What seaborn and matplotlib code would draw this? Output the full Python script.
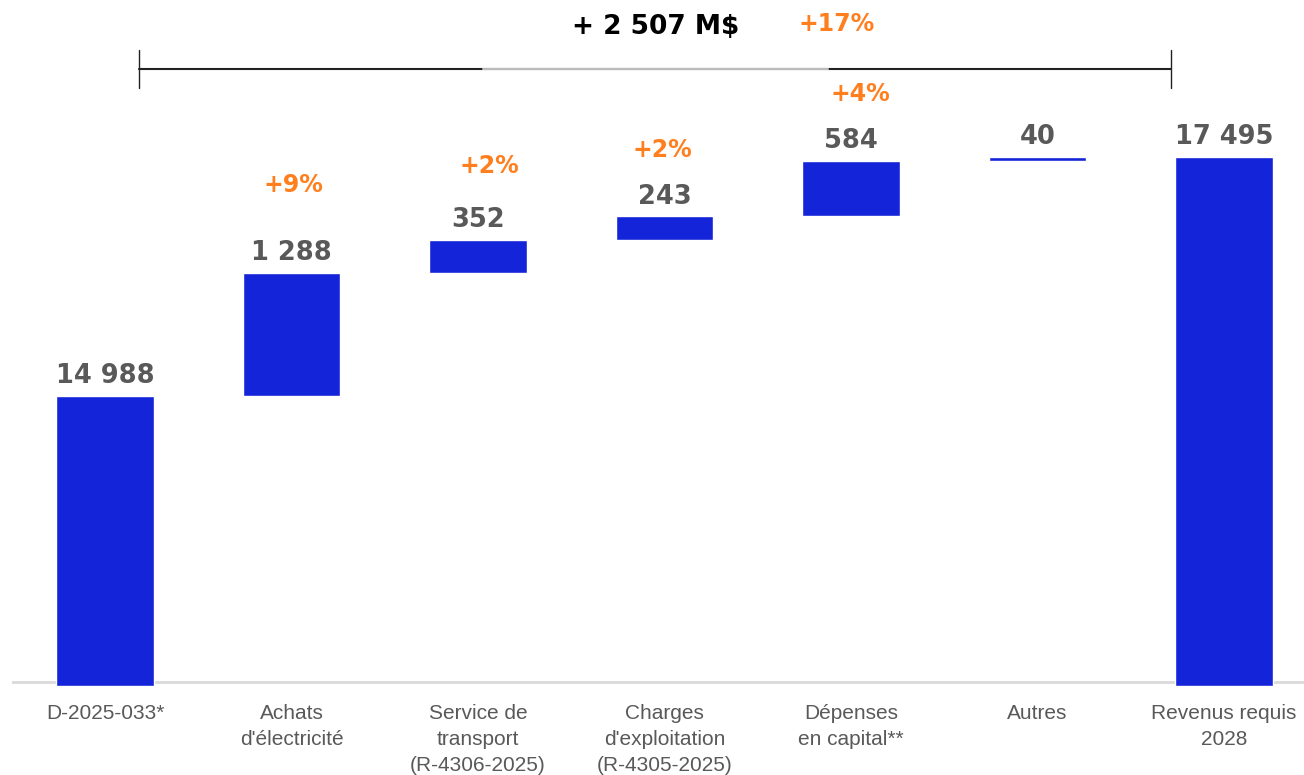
import numpy as np
import matplotlib
matplotlib.use('Agg')
import matplotlib.pyplot as plt
import seaborn as sns

# données du graphique (M$)
categories = ["D-2025-033*", "Achats\nd'électricité", "Service de\ntransport\n(R-4306-2025)",
              "Charges\nd'exploitation\n(R-4305-2025)", "Dépenses\nen capital**", "Autres",
              "Revenus requis\n2028"]
values = [14988, 1288, 352, 243, 584, 40, 17495]
is_total = [True, False, False, False, False, False, True]
pct_labels = ["", "+9%", "+2%", "+2%", "+4%", "", ""]
total_label = "+ 2 507 M\\$"
total_pct = "+17%"

# décalages des étiquettes % (px)
pct_offsets = [(0, 0), (2, 76), (11, 62), (-2, 54), (9, 55), (0, 0), (0, 0)]

base = 11946
bar_color = "#1424D8"
orange = "#FF7F1F"
grey = "#595959"

# calcul des bases de la cascade
bottoms, heights, tops = [], [], []
running = 0
for v, tot in zip(values, is_total):
    if tot:
        bottoms.append(base)
        heights.append(v - base)
        running = v
    else:
        bottoms.append(running)
        heights.append(v)
        running += v
    tops.append(bottoms[-1] + heights[-1])

sns.set_style("white")
fig = plt.figure(figsize=(13.04, 7.75), dpi=100)
ax = fig.add_axes([12 / 1304, 89 / 775, 1292 / 1304, 686 / 775])

sns.barplot(x=categories, y=heights, bottom=bottoms, color=bar_color, width=0.525,
            errorbar=None, saturation=1, ax=ax, zorder=3)

ax.set_xlim(-0.4987, 6.429)
ax.set_ylim(base, 19142)
ax.axhline(base + 42, color="#D9D9D9", lw=2, zorder=1)

for s in ax.spines.values():
    s.set_visible(False)
ax.set_yticks([])
ax.tick_params(axis="x", length=0, pad=13)
for lab in ax.get_xticklabels():
    lab.set_fontfamily("Liberation Sans")
    lab.set_fontsize(15)
    lab.set_color(grey)
    lab.set_linespacing(1.45)
    lab.set_verticalalignment("top")

# étiquettes de valeurs
for i, (v, t) in enumerate(zip(values, tops)):
    ax.annotate(f"{v:,}".replace(",", " "), (i, t), xytext=(0, 5), textcoords="offset points",
                ha="center", va="bottom", fontsize=18.5, fontweight="bold", color=grey)
    if pct_labels[i]:
        dx, dy = pct_offsets[i]
        ax.annotate(pct_labels[i], (i, t), xytext=(dx * 0.72, dy * 0.72), textcoords="offset points",
                    ha="center", va="bottom", fontsize=17, fontweight="bold", color=orange)

# accolade de variation totale
yb = 18418
ax.plot([0.182, 5.716], [yb, yb], color="#222222", lw=1.5, zorder=2)
ax.plot([2.027, 3.877], [yb, yb], color="#BBBBBB", lw=1.5, zorder=2)
ax.plot([0.182, 0.182], [yb - 200, yb + 200], color="#222222", lw=1, zorder=2)
ax.plot([5.716, 5.716], [yb - 200, yb + 200], color="#222222", lw=1, zorder=2)
ax.text(2.954, 18859, total_label, ha="center", va="center", fontsize=19,
        fontweight="bold", color="black")
ax.text(3.925, 18890, total_pct, ha="center", va="center", fontsize=17,
        fontweight="bold", color=orange)

fig.savefig("out.png", dpi=100)
